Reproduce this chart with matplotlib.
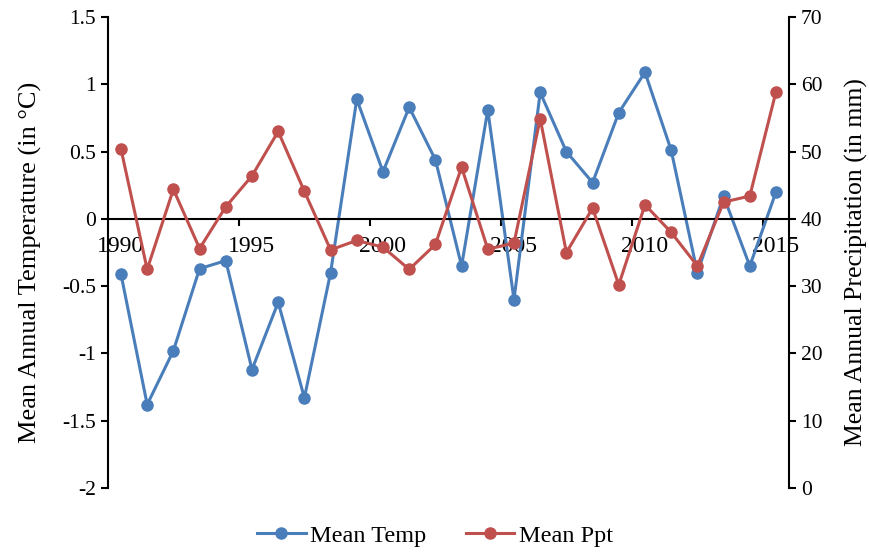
import numpy as np
import matplotlib
matplotlib.use("Agg")
import matplotlib.pyplot as plt

plt.rcParams['font.family'] = ['Liberation Serif', 'DejaVu Serif']

years = list(range(1990, 2016))
mean_temp = [-0.41, -1.38, -0.98, -0.37, -0.31, -1.12, -0.62, -1.33, -0.40, 0.89,
             0.35, 0.83, 0.44, -0.35, 0.81, -0.60, 0.94, 0.50, 0.27, 0.79,
             1.09, 0.51, -0.40, 0.17, -0.35, 0.20]
mean_ppt = [50.4, 32.5, 44.4, 35.6, 41.8, 46.4, 53.0, 44.1, 35.4, 36.8,
            35.8, 32.5, 36.2, 47.7, 35.5, 36.4, 54.9, 35.0, 41.6, 30.2,
            42.1, 38.0, 33.0, 42.5, 43.4, 58.9]

blue = '#4a7ebb'
red = '#c0504d'

x = np.arange(len(years))

fig = plt.figure(figsize=(8.7, 5.52), dpi=100)
ax = fig.add_axes([0.124, 0.116, 0.783, 0.853])
ax2 = ax.twinx()

l1, = ax.plot(x, mean_temp, color=blue, lw=2.2, marker='o', ms=8, label='Mean Temp')
l2, = ax2.plot(x, mean_ppt, color=red, lw=2.2, marker='o', ms=8, label='Mean Ppt')

ax.set_xlim(-0.5, len(years) - 0.5)
ax.set_ylim(-2, 1.5)
ax2.set_ylim(0, 70)

ax.set_yticks(np.arange(-2, 1.51, 0.5))
ax.set_yticklabels(['-2', '-1.5', '-1', '-0.5', '0', '0.5', '1', '1.5'])
ax2.set_yticks(np.arange(0, 71, 10))

# category ticks between points, labels every 5 years
ax.set_xticks(np.arange(4.5, len(years), 5))
ax.set_xticks(np.arange(0, len(years), 5), minor=True)
ax.set_xticklabels([])
ax.set_xticklabels([str(years[i]) for i in range(0, len(years), 5)], minor=True)
ax.tick_params(axis='x', which='minor', length=0, pad=12, labelsize=17)
ax.tick_params(axis='x', which='major', length=5, width=1.5, direction='out')

ax.spines['bottom'].set_position(('data', 0))
ax.spines['top'].set_visible(False)
ax.spines['right'].set_visible(False)
for s in ['top', 'bottom', 'left']:
    ax2.spines[s].set_visible(False)
for sp in [ax.spines['bottom'], ax.spines['left'], ax2.spines['right']]:
    sp.set_linewidth(1.5)

ax.tick_params(axis='y', labelsize=15.5, length=5, width=1.5)
ax2.tick_params(axis='y', labelsize=15.5, length=5, width=1.5)

ax.set_ylabel('Mean Annual Temperature (in °C)', fontsize=19)
ax2.set_ylabel('Mean Annual Precipitation (in mm)', fontsize=18.5)
ax.yaxis.set_label_coords(-0.097, 0.48)
ax2.yaxis.set_label_coords(1.082, 0.48)

fig.legend(handles=[l1, l2], loc='lower center', bbox_to_anchor=(0.5, -0.03),
           ncol=2, frameon=False, fontsize=17.5, handlelength=2.0, columnspacing=1.6,
           handletextpad=0.2)

fig.savefig('out.png', dpi=100)
